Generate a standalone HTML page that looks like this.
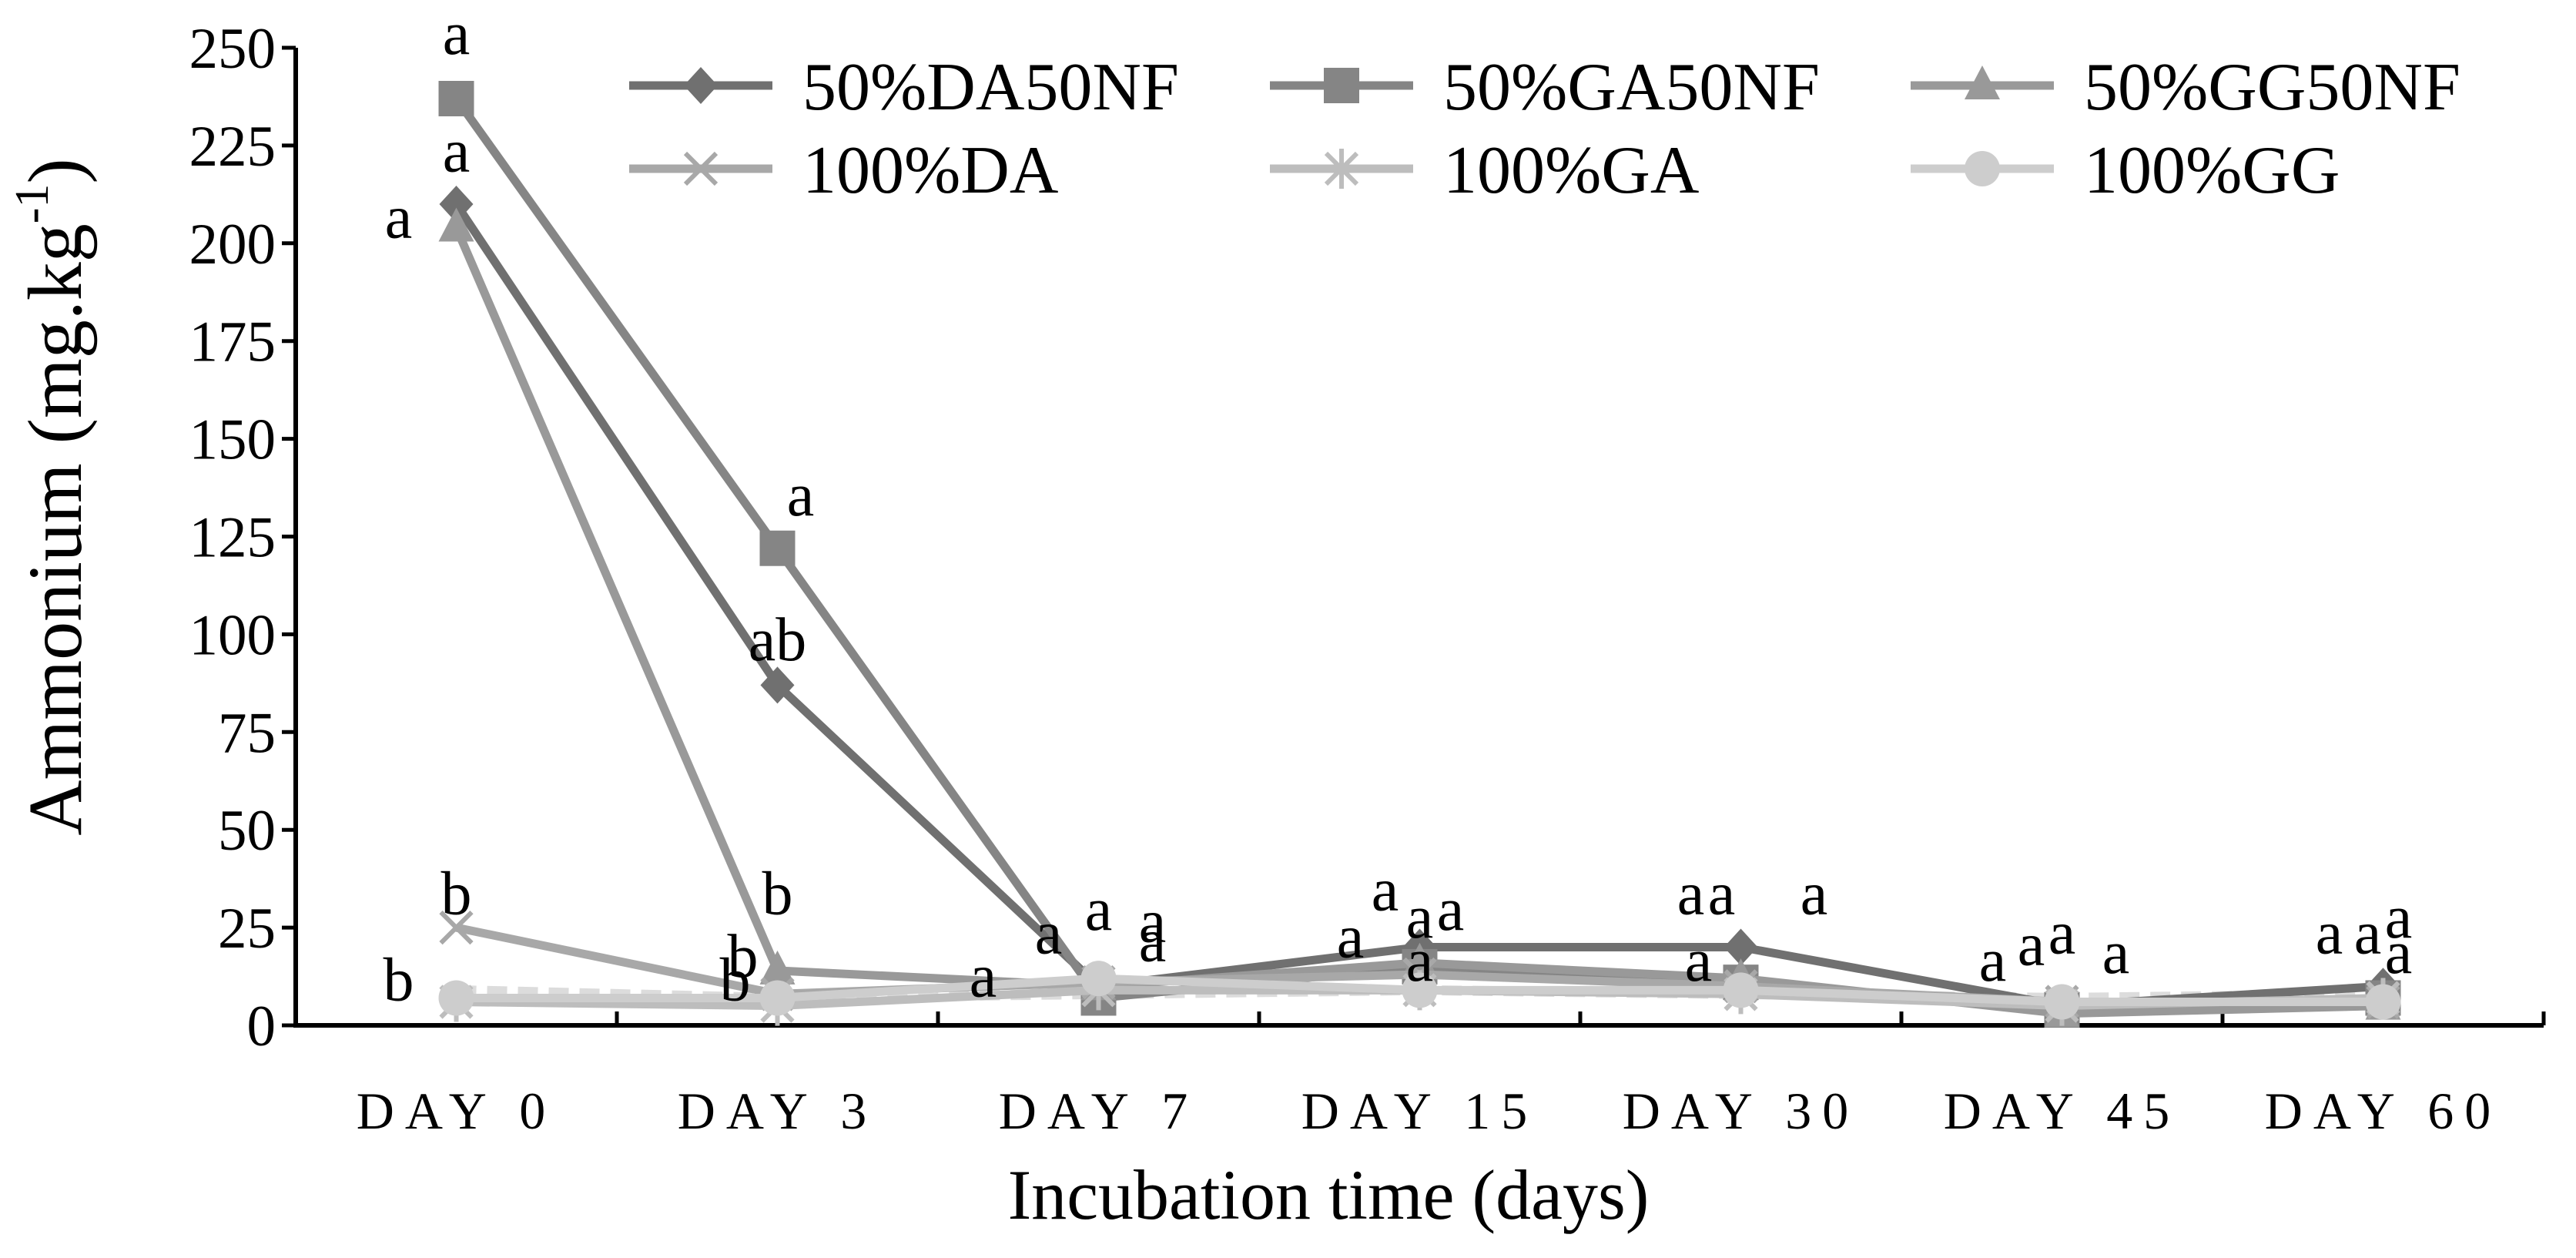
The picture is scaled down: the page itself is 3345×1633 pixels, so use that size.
<!DOCTYPE html>
<html><head><meta charset="utf-8"><style>
html,body{margin:0;padding:0;background:#fff;}
svg{display:block;font-family:"Liberation Serif",serif;}
</style></head><body>
<svg id="chart" width="3345" height="1633" viewBox="0 0 3345 1633" xmlns="http://www.w3.org/2000/svg">
<g id="axes"></g>
<g id="series"></g>
<g id="letters"></g>
<g id="legend"></g>
<text transform="translate(82,645) rotate(-90)" text-anchor="middle" font-size="100" dominant-baseline="middle">Ammonium (mg.kg<tspan dy="-34" font-size="62">-1</tspan><tspan dy="34">)</tspan></text>
<text x="1725" y="1582" text-anchor="middle" font-size="92">Incubation time (days)</text>
</svg>
<script>
const categories = ["DAY 0","DAY 3","DAY 7","DAY 15","DAY 30","DAY 45","DAY 60"];
const yTicks = [0,25,50,75,100,125,150,175,200,225,250];
const seriesNames = ["50%DA50NF","50%GA50NF","50%GG50NF","100%DA","100%GA","100%GG"];
const s_DA50NF = [210,87,10,20,20,5,10];
const s_GA50NF = [237,122,7,15,11,4,7];
const s_GG50NF = [204,14,10,16,12,3,5];
const s_DA100 = [25,8,11,13,10,6,6];
const s_GA100 = [6,5,9,9,8,5,7];
const s_GG100 = [7,7,12,9,9,6,6];
const s_dashed = [9,7,8,9,8,7,8];
const letterCats = [0,0,0,0,0, 1,1,1,1,1, 2,2,2,2,2, 3,3,3,3,3, 4,4,4,4, 5,5,5,5, 6,6,6,6];
const letterVals = [250,220,203,30,8, 132,95,30,14,8, 26,20,23,9,18, 31,24,26,19,13, 30,30,30,13, 13,17,20,15, 20,20,24,15];
const letterTxt = ["a","a","a","b","b", "a","ab","b","b","b", "a","a","a","a","a", "a","a","a","a","a", "a","a","a","a", "a","a","a","a", "a","a","a","a"];
const letterDx = [0,0,-75,0,-75, 30,0,0,-45,-55, 0,-65,70,-150,70, -45,0,40,-90,0, -65,-25,95,-55, -90,-40,0,70, -70,-20,20,20];

const NS="http://www.w3.org/2000/svg";
const X0=384, X1=3303, Y0=1331, YT=62;
const band=(X1-X0)/categories.length;
const xs=i=>X0+band*(i+0.5);
const ys=v=>Y0-(v/250)*(Y0-YT);
function mk(tag,attrs,parent){const e=document.createElementNS(NS,tag);for(const k in attrs)e.setAttribute(k,attrs[k]);parent.appendChild(e);return e;}
const axes=document.getElementById('axes');
const a1=mk('line',{x1:X0,y1:YT,x2:X0,y2:Y0,stroke:'#000','stroke-width':6},axes);


const a2=mk('line',{x1:X0-3,y1:Y0,x2:X1,y2:Y0,stroke:'#000','stroke-width':6},axes);


yTicks.forEach(t=>{
  const l=mk('line',{x1:X0-18,y1:ys(t),x2:X0,y2:ys(t),stroke:'#000','stroke-width':5},axes);
  
  
  const tx=mk('text',{x:X0-26,y:ys(t)+26,'text-anchor':'end','font-size':75},axes);
  tx.textContent=t;
  
  
});
for(let i=0;i<=categories.length;i++){
  const x=X0+band*i;
  const l=mk('line',{x1:x,y1:Y0-18,x2:x,y2:Y0,stroke:'#000','stroke-width':5},axes);
  
  
}
categories.forEach((c,i)=>{
  const t=mk('text',{x:xs(i),y:1465,'text-anchor':'middle','font-size':68,'letter-spacing':14},axes);
  t.textContent=c;
  
  
});
function marker(g,type,x,y,col){
  let e;
  if(type==='diamond') e=mk('polygon',{points:`${x},${y-24} ${x+22},${y} ${x},${y+24} ${x-22},${y}`,fill:col},g);
  else if(type==='square') e=mk('rect',{x:x-23,y:y-23,width:46,height:46,fill:col},g);
  else if(type==='triangle') e=mk('polygon',{points:`${x},${y-26} ${x+23},${y+18} ${x-23},${y+18}`,fill:col},g);
  else if(type==='x') e=mk('path',{d:`M${x-20},${y-20}L${x+20},${y+20}M${x+20},${y-20}L${x-20},${y+20}`,stroke:col,'stroke-width':6,fill:'none'},g);
  else if(type==='star') e=mk('path',{d:`M${x-20},${y-20}L${x+20},${y+20}M${x+20},${y-20}L${x-20},${y+20}M${x},${y-26}L${x},${y+26}`,stroke:col,'stroke-width':6,fill:'none'},g);
  else e=mk('circle',{cx:x,cy:y,r:23,fill:col},g);
  return e;
}
const ser=document.getElementById('series');
const all=[[s_DA50NF,'diamond','#707070'],[s_GA50NF,'square','#858585'],[s_GG50NF,'triangle','#999999'],[s_DA100,'x','#a8a8a8'],[s_GA100,'star','#bdbdbd'],[s_GG100,'circle','#cdcdcd']];
const dl=mk('polyline',{points:s_dashed.map((v,i)=>xs(i)+','+ys(v)).join(' '),fill:'none',stroke:'#dcdcdc','stroke-width':13,'stroke-dasharray':'26,14'},ser);


all.forEach((s,k)=>{
  const g=mk('g',{},ser);
  
  
  const pl=mk('polyline',{points:s[0].map((v,i)=>xs(i)+','+ys(v)).join(' '),fill:'none',stroke:s[2],'stroke-width':11,'stroke-linejoin':'round'},g);
  
  
  s[0].forEach((v,i)=>{
    const m=marker(g,s[1],xs(i),ys(v),s[2]);
    
    
  });
});
const lg=document.getElementById('letters');
letterTxt.forEach((t,i)=>{
  const e=mk('text',{x:xs(letterCats[i])+letterDx[i],y:ys(letterVals[i])+8,'text-anchor':'middle','font-size':80},lg);
  e.textContent=t;
  
  
});
const leg=document.getElementById('legend');
all.forEach((s,k)=>{
  const col=k%3,row=Math.floor(k/3);
  const lx=817+col*832, ly=111+row*108;
  const g=mk('g',{},leg);
  
  
  mk('line',{x1:lx,y1:ly,x2:lx+186,y2:ly,stroke:s[2],'stroke-width':11},g);
  marker(g,s[1],lx+93,ly,s[2]);
  const t=mk('text',{x:lx+225,y:ly+31,'font-size':88},g);
  t.textContent=seriesNames[k];
});
</script>
</body></html>
